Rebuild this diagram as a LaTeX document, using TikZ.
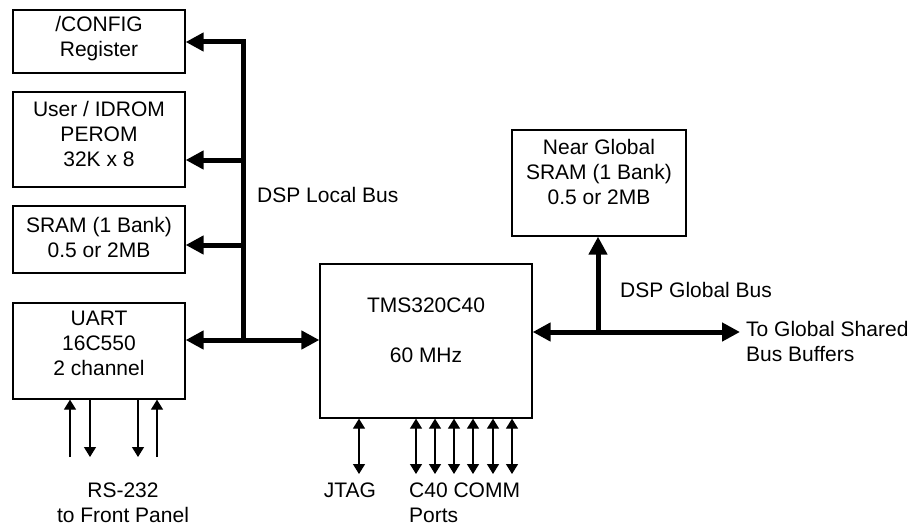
\documentclass[tikz,border=0pt]{standalone}
\usepackage{fontspec}
\setmainfont{Liberation Sans}
\usetikzlibrary{arrows.meta}
\begin{document}
\begin{tikzpicture}[x=1pt,y=-1pt,
  box/.style={draw, line width=1.3pt, inner sep=0pt},
  txt/.style={font=\fontsize{21}{25}\selectfont, inner sep=0pt, align=center},
  bus/.style={line width=5pt, line join=miter},
  sig/.style={line width=1.3pt},
  bigtip/.tip={Triangle[length=18pt,width=18pt]},
  smalltip/.tip={Triangle[length=10pt,width=12pt]}]
\useasboundingbox (0,0) rectangle (917,527);
% boxes
\node[box, minimum width=172pt, minimum height=63pt] (cfg) at (99,41.5) {};
\node[box, minimum width=172pt, minimum height=95pt] (idrom) at (99,139.5) {};
\node[box, minimum width=172pt, minimum height=67pt] (sram) at (99,239.5) {};
\node[box, minimum width=172pt, minimum height=96pt] (uart) at (99,351) {};
\node[box, minimum width=212pt, minimum height=154pt] (tms) at (426,341) {};
\node[box, minimum width=174pt, minimum height=106pt] (ng) at (599,183) {};
% box texts
\node[txt] (cfgt) at (99,39) {/CONFIG\\Register};
\node[txt] (idromt) at (99,134) {User / IDROM\\PEROM\\32K x 8};
\node[txt] (sramt) at (99,237.5) {SRAM (1 Bank)\\0.5 or 2MB};
\node[txt] (uartt) at (99,343) {UART\\16C550\\2 channel};
\node[txt] (ngt) at (599,172) {Near Global\\SRAM (1 Bank)\\0.5 or 2MB};
\node[txt] (tmst1) at (426,305) {TMS320C40};
\node[txt] (tmst2) at (426,355) {60 MHz};
% local bus
\coordinate (b1) at (243,42);
\coordinate (b2) at (243,160);
\coordinate (b3) at (243,245);
\coordinate (b4) at (243,340);
\draw[bus, bigtip-] (b1 -| cfg.east) -- (b1) -- (b4);
\draw[bus, bigtip-] (b2 -| idrom.east) -- (b2);
\draw[bus, bigtip-] (b3 -| sram.east) -- (b3);
\draw[bus, bigtip-bigtip] (b4 -| uart.east) -- (b4 -| tms.west);
\node[txt, anchor=west] (lbus) at (257,195) {DSP Local Bus};
% global bus
\coordinate (g1) at (598,332);
\coordinate (gend) at (740,332);
\draw[bus, bigtip-bigtip] (g1 -| tms.east) -- (gend);
\draw[bus, -bigtip] (g1) -- (g1 |- ng.south);
\node[txt, anchor=west] (gbus) at (620,290) {DSP Global Bus};
\node[txt, anchor=west, align=left] (gsh) at (746,341.5) {To Global Shared\\Bus Buffers};
% RS-232
\coordinate (r1) at (70,457);
\coordinate (r2) at (90,457);
\coordinate (r3) at (138,457);
\coordinate (r4) at (157,457);
\draw[sig, -smalltip] (r1) -- (r1 |- uart.south);
\draw[sig, smalltip-] (r2) -- (r2 |- uart.south);
\draw[sig, smalltip-] (r3) -- (r3 |- uart.south);
\draw[sig, -smalltip] (r4) -- (r4 |- uart.south);
\node[txt] (rs) at (123,502.5) {RS-232\\to Front Panel};
% JTAG and COMM ports
\coordinate (j) at (359,474);
\draw[sig, smalltip-smalltip] (j |- tms.south) -- (j);
\node[txt] (jt) at (350,490) {JTAG};
\foreach \x [count=\i] in {416,435,454,473,493,512}{
  \coordinate (c\i) at (\x,474);
  \draw[sig, smalltip-smalltip] (c\i |- tms.south) -- (c\i);
}
\node[txt, anchor=west, align=left] (comm) at (409,502.5) {C40 COMM\\Ports};
\end{tikzpicture}
\end{document}
